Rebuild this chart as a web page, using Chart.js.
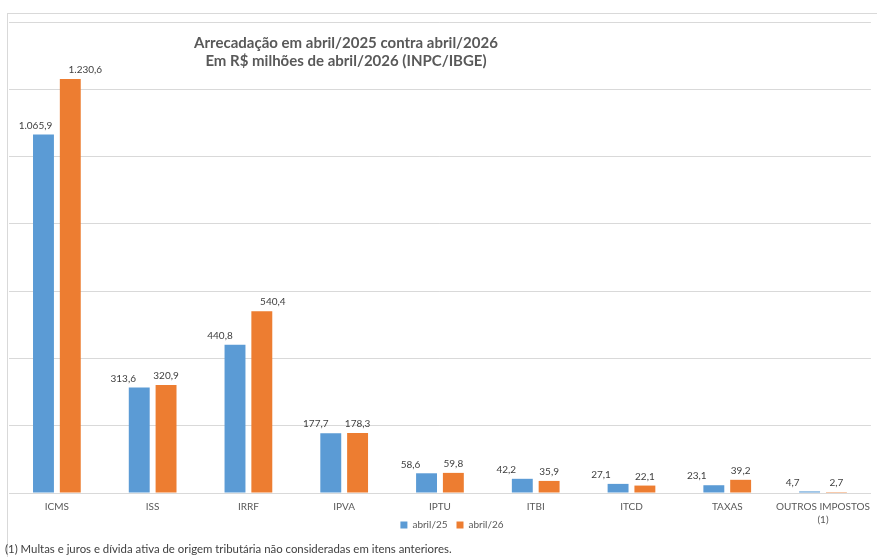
<!DOCTYPE html>
<html lang="pt-BR">
<head>
<meta charset="utf-8">
<title>Arrecadação abril/2025 x abril/2026</title>
<script src="https://cdn.jsdelivr.net/npm/chart.js@4.4.1/dist/chart.umd.min.js"></script>
<style>
  html, body { margin: 0; padding: 0; background: #fff; }
  body { width: 877px; height: 557px; position: relative; overflow: hidden; font-family: Lato, "Liberation Sans", sans-serif; }
  #moldura { position: absolute; left: 7px; top: 13px; width: 900px; height: 600px; border-left: 1px solid #d9d9d9; border-top: 1px solid #d9d9d9; }
  #grafico { position: absolute; left: 0; top: 0; }
  #titulo { position: absolute; left: 146px; width: 400px; top: 33px; text-align: center; font-weight: bold; font-size: 15px; line-height: 18px; color: #595959; }
  #nota { position: absolute; left: 5px; top: 542px; font-size: 11.4px; color: #404040; white-space: nowrap; }
</style>
</head>
<body>
<div id="moldura"></div>
<canvas id="grafico" width="877" height="562"></canvas>
<div id="titulo">Arrecadação em abril/2025 contra abril/2026<br>Em R$ milhões de abril/2026 (INPC/IBGE)</div>
<div id="nota">(1) Multas e juros e dívida ativa de origem tributária não consideradas em itens anteriores.</div>

<script>
// Dados (R$ milhões)
const categorias = ['ICMS', 'ISS', 'IRRF', 'IPVA', 'IPTU', 'ITBI', 'ITCD', 'TAXAS', ['OUTROS IMPOSTOS', '(1)']];
const abril25 = [1065.9, 313.6, 440.8, 177.7, 58.6, 42.2, 27.1, 23.1, 4.7];
const abril26 = [1230.6, 320.9, 540.4, 178.3, 59.8, 35.9, 22.1, 39.2, 2.7];
const series = ['abril/25', 'abril/26'];
const eixoMax = 1400;
const eixoPasso = 200;

// formato brasileiro: 1.065,9
function formatar(v) {
  const partes = v.toFixed(1).split('.');
  partes[0] = partes[0].replace(/\B(?=(\d{3})+(?!\d))/g, '.');
  return partes.join(',');
}

// rótulos de valor sobre as barras
const rotulosValor = {
  id: 'rotulosValor',
  afterDatasetsDraw(chart) {
    const ctx = chart.ctx;
    ctx.save();
    ctx.font = '10px Lato, "Liberation Sans", sans-serif';
    ctx.fillStyle = '#404040';
    ctx.textAlign = 'center';
    ctx.textBaseline = 'bottom';
    chart.data.datasets.forEach((ds, i) => {
      const meta = chart.getDatasetMeta(i);
      meta.data.forEach((bar, j) => {
        const dx = ds.labelDx ? ds.labelDx[j] : 0;
        ctx.fillText(formatar(ds.data[j]), bar.x + dx, bar.y - 4);
      });
    });
    ctx.restore();
  }
};

// legenda sobe um pouco e anda para a direita, como no original
const ajusteLegenda = {
  id: 'ajusteLegenda',
  afterLayout(chart) {
    const lg = chart.legend;
    if (!lg) return;
    lg.left += 9; lg.right += 9;
    lg.top -= 22; lg.bottom -= 22;
  }
};

new Chart(document.getElementById('grafico'), {
  type: 'bar',
  data: {
    labels: categorias,
    datasets: [
      { label: series[0], data: abril25, backgroundColor: '#5b9bd5',
        labelDx: [-8, -16, -15, -15, -16, -16, -17, -17, -17] },
      { label: series[1], data: abril26, backgroundColor: '#ed7d31',
        labelDx: [15, 0, 11, 0, 0, 0, 0, 0, 0] }
    ]
  },
  options: {
    responsive: false,
    animation: false,
    categoryPercentage: 0.56,
    barPercentage: 0.78,
    layout: { padding: { left: 9, right: 0, top: 22, bottom: 0 } },
    plugins: {
      title: { display: false },
      tooltip: { enabled: false },
      legend: {
        position: 'bottom',
        labels: {
          boxWidth: 7, boxHeight: 7, padding: 9, color: '#595959',
          font: { family: 'Lato, "Liberation Sans", sans-serif', size: 10 }
        }
      }
    },
    scales: {
      x: {
        grid: { display: false, drawTicks: false },
        border: { color: '#d9d9d9' },
        ticks: { color: '#595959', padding: 7, maxRotation: 0, autoSkip: false,
          font: { family: 'Lato, "Liberation Sans", sans-serif', size: 10, lineHeight: 1.3 } }
      },
      y: {
        min: 0, max: eixoMax,
        ticks: { display: false, stepSize: eixoPasso },
        grid: { color: '#d9d9d9', drawTicks: false },
        border: { display: false }
      }
    }
  },
  plugins: [rotulosValor, ajusteLegenda]
});
</script>
</body>
</html>
